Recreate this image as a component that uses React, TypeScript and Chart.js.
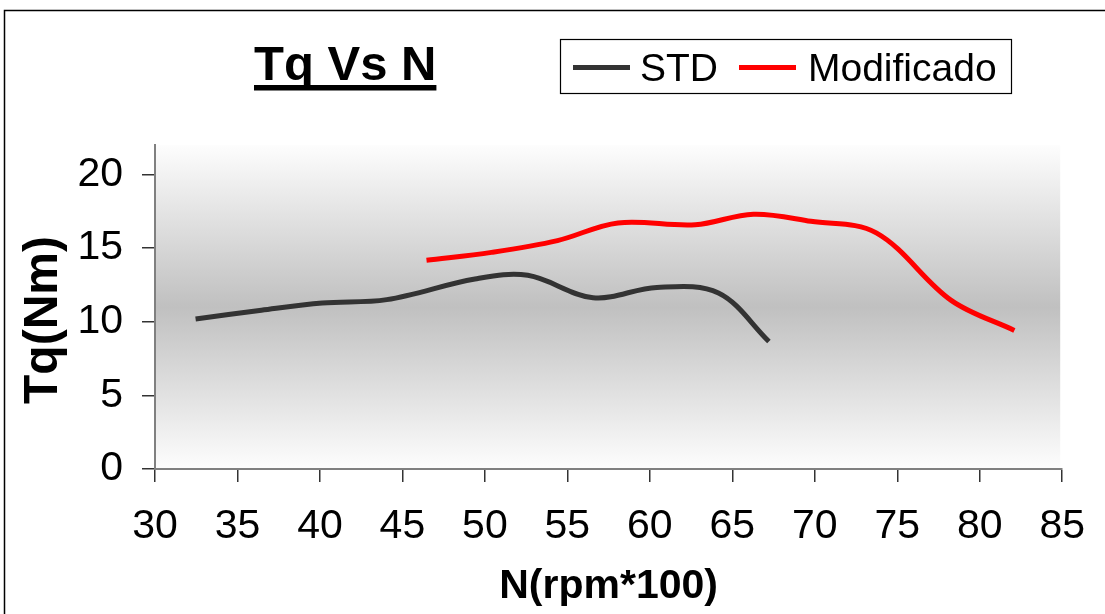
import React, { useEffect, useRef } from "react";
import { Chart, registerables } from "chart.js";

Chart.register(...registerables);

// ---- data ----
const stdRpm = [32.46, 36.45, 40.14, 44.05, 49.4, 52.6, 56.56, 60.43, 64.16, 67.22];
const stdTorque = [10.18, 10.78, 11.27, 11.5, 12.9, 13.15, 11.63, 12.33, 11.95, 8.66];
const modRpm = [46.46, 50.4, 54.4, 58.07, 62.75, 66.28, 69.77, 73.73, 78.27, 82.1];
const modTorque = [14.17, 14.71, 15.51, 16.71, 16.58, 17.3, 16.82, 16.03, 11.45, 9.41];
const seriesNames = ["STD", "Modificado"];
const seriesColors = ["#333333", "#ff0000"];
const xTickValues = [30, 35, 40, 45, 50, 55, 60, 65, 70, 75, 80, 85];
const yTickValues = [0, 5, 10, 15, 20];
const chartTitle = "Tq Vs N";
const xAxisTitle = "N(rpm*100)";
const yAxisTitle = "Tq(Nm)";

const FONT = '"Liberation Sans", Arial, Helvetica, sans-serif';

const decorPlugin = {
  id: "decor",
  beforeDraw(chart: any) {
    const { ctx, chartArea: a } = chart;
    ctx.save();
    ctx.fillStyle = "#ffffff";
    ctx.fillRect(0, 0, chart.width, chart.height);
    const g = ctx.createLinearGradient(0, a.top, 0, a.bottom);
    g.addColorStop(0, "#fdfdfd");
    g.addColorStop(0.5, "#c0c0c0");
    g.addColorStop(1, "#fdfdfd");
    ctx.fillStyle = g;
    ctx.fillRect(a.left, a.top, a.right - a.left - 2, a.bottom - a.top);
    ctx.restore();
  },
  afterDraw(chart: any) {
    const { ctx } = chart;
    ctx.save();
    // outer frame
    ctx.strokeStyle = "#000000";
    ctx.lineWidth = 1.5;
    ctx.strokeRect(4.5, 10.5, 1300, 1300);

    // y axis title (rotated)
    ctx.fillStyle = "#000000";
    ctx.font = `bold 48px ${FONT}`;
    ctx.textAlign = "center";
    ctx.textBaseline = "middle";
    ctx.translate(44, 320);
    ctx.rotate(-Math.PI / 2);
    ctx.fillText(yAxisTitle, 0, 0);
    ctx.setTransform(1, 0, 0, 1, 0, 0);

    // title with underline
    ctx.font = `bold 49px ${FONT}`;
    ctx.textBaseline = "alphabetic";
    ctx.textAlign = "left";
    const tx = 254;
    ctx.fillText(chartTitle, tx, 80);
    const tw = ctx.measureText(chartTitle).width;
    ctx.fillRect(tx, 85, tw, 5.5);

    // legend box
    ctx.lineWidth = 1.2;
    ctx.strokeStyle = "#000000";
    ctx.strokeRect(560.5, 39.5, 451, 54);
    ctx.font = `39px ${FONT}`;
    const ds = chart.data.datasets;
    const items = [
      { lx: 573, tx: 640 },
      { lx: 739, tx: 808 },
    ];
    ds.forEach((d: any, i: number) => {
      const it = items[i];
      ctx.strokeStyle = d.borderColor;
      ctx.lineWidth = 5;
      ctx.beginPath();
      ctx.moveTo(it.lx, 67.5);
      ctx.lineTo(it.lx + 57, 67.5);
      ctx.stroke();
      ctx.fillStyle = "#000000";
      ctx.fillText(d.label, it.tx, 81);
    });
    ctx.restore();
  },
};

export default function App() {
  const ref = useRef<HTMLCanvasElement>(null);

  useEffect(() => {
    const canvas = ref.current;
    if (!canvas) return;
    const chart = new Chart(canvas, {
      type: "line",
      data: {
        datasets: [
          {
            label: seriesNames[0],
            data: stdRpm.map((x, i) => ({ x, y: stdTorque[i] })),
            borderColor: seriesColors[0],
            backgroundColor: seriesColors[0],
            borderWidth: 5,
            pointRadius: 0,
            tension: 0.35,
            fill: false,
          },
          {
            label: seriesNames[1],
            data: modRpm.map((x, i) => ({ x, y: modTorque[i] })),
            borderColor: seriesColors[1],
            backgroundColor: seriesColors[1],
            borderWidth: 5,
            pointRadius: 0,
            tension: 0.35,
            fill: false,
          },
        ],
      },
      options: {
        responsive: false,
        animation: false,
        devicePixelRatio: 1,
        layout: { padding: { left: 0, top: 145, right: 40, bottom: 0 } },
        plugins: {
          legend: { display: false },
          title: { display: false },
          tooltip: { enabled: false },
        },
        scales: {
          x: {
            type: "linear",
            min: 30,
            max: 85,
            afterBuildTicks: (s: any) => {
              s.ticks = xTickValues.map((v) => ({ value: v }));
            },
            afterFit: (s: any) => {
              s.height = 145;
            },
            ticks: {
              color: "#000000",
              font: { family: FONT, size: 41 },
              padding: 20,
              maxRotation: 0,
              autoSkip: false,
            },
            grid: {
              drawOnChartArea: false,
              drawTicks: true,
              tickLength: 13,
              color: "#333333",
              lineWidth: 1.5,
            },
            border: { color: "#808080", width: 2 },
            title: {
              display: true,
              text: xAxisTitle,
              color: "#000000",
              font: { family: FONT, size: 41, weight: "bold" },
              padding: { top: 0, bottom: 3 },
            },
          },
          y: {
            type: "linear",
            min: 0,
            max: 22,
            afterBuildTicks: (s: any) => {
              s.ticks = yTickValues.map((v) => ({ value: v }));
            },
            afterFit: (s: any) => {
              s.width = 155;
            },
            ticks: {
              color: "#000000",
              font: { family: FONT, size: 41 },
              padding: 19,
              autoSkip: false,
            },
            grid: {
              drawOnChartArea: false,
              drawTicks: true,
              tickLength: 13,
              color: "#333333",
              lineWidth: 1.5,
            },
            border: { color: "#808080", width: 2 },
            title: { display: false },
          },
        },
      },
      plugins: [decorPlugin],
    } as any);
    return () => chart.destroy();
  }, []);

  return (
    <div
      style={{
        position: "absolute",
        left: 0,
        top: 0,
        width: 1105,
        height: 614,
        background: "#ffffff",
      }}
    >
      <canvas
        ref={ref}
        width={1105}
        height={614}
        style={{ display: "block", width: 1105, height: 614 }}
      />
    </div>
  );
}
